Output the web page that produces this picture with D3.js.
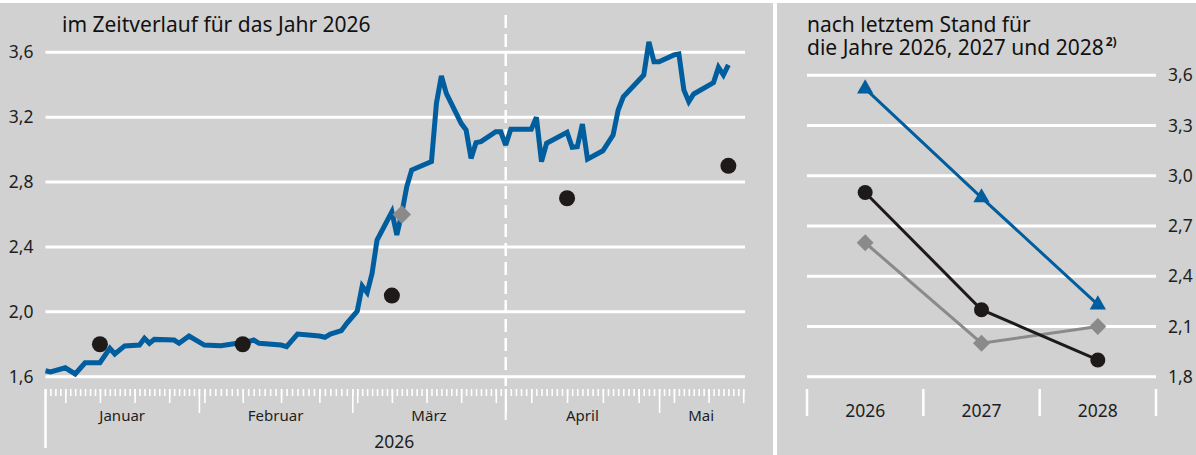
<!DOCTYPE html>
<html>
<head>
<meta charset="utf-8">
<script src="https://cdn.jsdelivr.net/npm/d3@7"></script>
<style>
  body { margin: 0; background: #fff; }
  svg { display: block; font-family: "Noto Sans", sans-serif; }
</style>
</head>
<body>
<svg id="chart" width="1196" height="455"></svg>
<script>
// ---- data ----
// daily values 2026 (blue line)
const blueSeries = [
  ["2026-01-01", 1.637], ["2026-01-02", 1.63], ["2026-01-05", 1.655], ["2026-01-07", 1.617],
  ["2026-01-09", 1.686], ["2026-01-12", 1.686], ["2026-01-14", 1.775], ["2026-01-15", 1.74],
  ["2026-01-17", 1.79], ["2026-01-20", 1.795], ["2026-01-21", 1.837], ["2026-01-22", 1.806],
  ["2026-01-23", 1.83], ["2026-01-27", 1.826], ["2026-01-28", 1.806], ["2026-01-30", 1.851],
  ["2026-02-02", 1.795], ["2026-02-05", 1.791], ["2026-02-08", 1.806], ["2026-02-09", 1.806],
  ["2026-02-11", 1.826], ["2026-02-12", 1.806], ["2026-02-16", 1.795], ["2026-02-17", 1.785],
  ["2026-02-19", 1.863], ["2026-02-21", 1.857], ["2026-02-23", 1.851], ["2026-02-24", 1.843],
  ["2026-02-25", 1.863], ["2026-02-27", 1.884], ["2026-02-28", 1.929],
  ["2026-03-02", 2.005], ["2026-03-03", 2.159], ["2026-03-04", 2.118], ["2026-03-05", 2.237],
  ["2026-03-06", 2.443], ["2026-03-09", 2.617], ["2026-03-10", 2.474], ["2026-03-11", 2.607],
  ["2026-03-12", 2.771], ["2026-03-13", 2.874], ["2026-03-17", 2.926], ["2026-03-18", 3.286],
  ["2026-03-19", 3.454], ["2026-03-20", 3.347], ["2026-03-23", 3.162], ["2026-03-24", 3.121],
  ["2026-03-25", 2.946], ["2026-03-26", 3.043], ["2026-03-27", 3.049], ["2026-03-30", 3.11],
  ["2026-03-31", 3.11],
  ["2026-04-01", 3.028], ["2026-04-02", 3.125], ["2026-04-06", 3.125], ["2026-04-07", 3.2],
  ["2026-04-08", 2.926], ["2026-04-09", 3.039], ["2026-04-13", 3.107], ["2026-04-14", 3.014],
  ["2026-04-15", 3.018], ["2026-04-16", 3.158], ["2026-04-17", 2.941], ["2026-04-20", 2.993],
  ["2026-04-22", 3.09], ["2026-04-23", 3.244], ["2026-04-24", 3.326], ["2026-04-28", 3.46],
  ["2026-04-29", 3.665], ["2026-04-30", 3.541],
  ["2026-05-01", 3.541], ["2026-05-04", 3.584], ["2026-05-05", 3.59], ["2026-05-06", 3.368],
  ["2026-05-07", 3.296], ["2026-05-08", 3.343], ["2026-05-12", 3.413], ["2026-05-13", 3.507],
  ["2026-05-14", 3.46], ["2026-05-15", 3.522]
];
// monthly estimates (black dots) and the single grey diamond
const blackPoints = [["2026-01-12", 1.8], ["2026-02-09", 1.8], ["2026-03-09", 2.1], ["2026-04-13", 2.7], ["2026-05-15", 2.9]];
const greyPoints = [["2026-03-11", 2.6]];

// right panel
const years = ["2026", "2027", "2028"];
const blueYears = [3.52, 2.87, 2.23];
const blackYears = [2.9, 2.2, 1.9];
const greyYears = [2.6, 2.0, 2.1];

const leftTicks = [1.6, 2.0, 2.4, 2.8, 3.2, 3.6];
const rightTicks = [1.8, 2.1, 2.4, 2.7, 3.0, 3.3, 3.6];
const monthNames = ["Januar", "Februar", "März", "April", "Mai"];
const axisStart = "2026-01-01", axisEnd = "2026-05-18";

// ---- setup ----
const BG = "#d1d1d1", BLUE = "#005d9e", BLACK = "#1e1a19", GREY = "#8a8a8a", TXT = "#1e1e1e";
const parse = d3.timeParse("%Y-%m-%d");
const de = d3.formatLocale({decimal: ",", thousands: ".", grouping: [3], currency: ["", " €"]});
const fmt = de.format(".1f");

const svg = d3.select("#chart");
svg.append("rect").attr("width", 1196).attr("height", 455).attr("fill", BG);
svg.append("rect").attr("width", 1196).attr("height", 3).attr("fill", "#fff");
svg.append("rect").attr("x", 773).attr("width", 4).attr("height", 455).attr("fill", "#fff");

// ================= left panel =================
const L = {left: 45.5, right: 745, top: 52.3, bottom: 376.7};
const monthW = 153.4;
const monthStarts = d3.timeMonth.range(parse(axisStart), parse(axisEnd));
const endDate = parse(axisEnd);
const xDomain = monthStarts.concat([endDate]);
const xRange = monthStarts.map((d, i) => L.left + i * monthW)
  .concat([L.left + (monthStarts.length - 1) * monthW + (d3.timeDay.count(monthStarts[monthStarts.length - 1], endDate) / 31) * monthW]);
const x = d3.scaleTime().domain(xDomain).range(xRange);
const yL = d3.scaleLinear().domain([1.6, 3.6]).range([L.bottom, L.top]);

const left = svg.append("g");

left.selectAll(".gridL").data(leftTicks).enter().append("line")
  .attr("x1", L.left).attr("x2", L.right)
  .attr("y1", d => yL(d)).attr("y2", d => yL(d))
  .attr("stroke", "#fff").attr("stroke-width", 3);

const yAxisL = left.append("g")
  .attr("transform", `translate(${L.left},0)`)
  .call(d3.axisLeft(yL).tickValues(leftTicks).tickFormat(fmt).tickSize(0).tickPadding(12));
yAxisL.select(".domain").remove();
yAxisL.selectAll("text").attr("fill", TXT).style("font-size", "17.5px").style("font-family", "Noto Sans");

// dashed separator at 1 April
const aprX = x(parse("2026-04-01"));
left.append("line").attr("x1", aprX).attr("x2", aprX).attr("y1", 15).attr("y2", 386)
  .attr("stroke", "#fff").attr("stroke-width", 2.5).attr("stroke-dasharray", "13,6");
left.append("line").attr("x1", aprX).attr("x2", aprX).attr("y1", 389).attr("y2", 420)
  .attr("stroke", "#fff").attr("stroke-width", 2);

// time axis: days, Mondays, month starts
const axisY = 389;
const days = d3.timeDay.range(parse(axisStart), d3.timeDay.offset(endDate, 1));
const mondays = d3.timeMonday.range(parse(axisStart), d3.timeDay.offset(endDate, 1));
function tickRow(values, size) {
  const g = left.append("g").attr("transform", `translate(0,${axisY})`)
    .call(d3.axisBottom(x).tickValues(values).tickSize(size).tickFormat(""));
  g.select(".domain").remove();
  g.selectAll("line").attr("stroke", "#fff").attr("stroke-width", 1.6);
}
tickRow(days, 7);
tickRow(mondays, 14);
tickRow(monthStarts.slice(1), 24);
left.append("line").attr("x1", L.left).attr("x2", L.left).attr("y1", axisY).attr("y2", 448)
  .attr("stroke", "#fff").attr("stroke-width", 2.5);

// month labels centered in their month
left.selectAll(".month").data(monthStarts).enter().append("text")
  .attr("x", (d, i) => (x(d) + x(i + 1 < monthStarts.length ? monthStarts[i + 1] : endDate)) / 2)
  .attr("y", 421).attr("text-anchor", "middle").attr("fill", TXT).style("font-size", "15px")
  .text((d, i) => monthNames[i]);
left.append("text").attr("x", (L.left + x(endDate)) / 2).attr("y", 448)
  .attr("text-anchor", "middle").attr("fill", TXT).style("font-size", "17.5px").text("2026");

// title
left.append("text").attr("x", 62).attr("y", 32).attr("fill", "#111")
  .style("font-size", "21px").text("im Zeitverlauf für das Jahr 2026");

// blue line
const lineL = d3.line().x(d => x(parse(d[0]))).y(d => yL(d[1]));
left.append("path").datum(blueSeries).attr("d", lineL)
  .attr("fill", "none").attr("stroke", BLUE).attr("stroke-width", 5).attr("stroke-linejoin", "miter").attr("stroke-miterlimit", 3);

left.selectAll(".bdot").data(blackPoints).enter().append("circle")
  .attr("cx", d => x(parse(d[0]))).attr("cy", d => yL(d[1])).attr("r", 8).attr("fill", BLACK);
left.selectAll(".gdot").data(greyPoints).enter().append("path")
  .attr("d", d3.symbol(d3.symbolSquare, 169))
  .attr("transform", d => `translate(${x(parse(d[0]))},${yL(d[1])}) rotate(45)`).attr("fill", GREY);

// ================= right panel =================
const R = {left: 807, right: 1156, top: 75.3, bottom: 376.7};
const xR = d3.scaleBand().domain(years).range([R.left, R.right]);
const yR = d3.scaleLinear().domain([1.8, 3.6]).range([R.bottom, R.top]);
const right = svg.append("g");

right.selectAll(".gridR").data(rightTicks).enter().append("line")
  .attr("x1", R.left).attr("x2", R.right)
  .attr("y1", d => yR(d)).attr("y2", d => yR(d))
  .attr("stroke", "#fff").attr("stroke-width", 3);

const yAxisR = right.append("g").attr("transform", `translate(${R.right},0)`)
  .call(d3.axisRight(yR).tickValues(rightTicks).tickFormat(fmt).tickSize(0).tickPadding(12));
yAxisR.select(".domain").remove();
yAxisR.selectAll("text").attr("fill", TXT).style("font-size", "17.5px").style("font-family", "Noto Sans");

// category separators and labels
const bounds = years.map(d => xR(d)).concat([xR(years[years.length - 1]) + xR.bandwidth()]);
right.selectAll(".sep").data(bounds).enter().append("line")
  .attr("x1", d => d).attr("x2", d => d).attr("y1", 389).attr("y2", 416)
  .attr("stroke", "#fff").attr("stroke-width", 2.5);
right.selectAll(".cat").data(years).enter().append("text")
  .attr("x", d => xR(d) + xR.bandwidth() / 2).attr("y", 417)
  .attr("text-anchor", "middle").attr("fill", TXT).style("font-size", "17.5px").text(d => d);

// title
right.append("text").attr("x", R.left).attr("y", 32).attr("fill", "#111")
  .style("font-size", "21px").text("nach letztem Stand für");
const t2 = right.append("text").attr("x", R.left).attr("y", 55).attr("fill", "#111").style("font-size", "21px");
t2.append("tspan").text("die Jahre 2026, 2027 und 2028");
t2.append("tspan").attr("dx", 2).attr("dy", -9).style("font-size", "12px").style("font-weight", 700).text("2)");

const cx = d => xR(d) + xR.bandwidth() / 2;
function series(vals, color, symbolFn) {
  const pts = years.map((d, i) => [cx(d), yR(vals[i])]);
  right.append("path").datum(pts).attr("d", d3.line())
    .attr("fill", "none").attr("stroke", color).attr("stroke-width", 3);
  symbolFn(right.selectAll(null).data(pts).enter(), color);
}
series(greyYears, GREY, (sel, c) => sel.append("path")
  .attr("d", d3.symbol(d3.symbolSquare, 144))
  .attr("transform", d => `translate(${d[0]},${d[1]}) rotate(45)`).attr("fill", c));
series(blackYears, BLACK, (sel, c) => sel.append("circle")
  .attr("cx", d => d[0]).attr("cy", d => d[1]).attr("r", 7.5).attr("fill", c));
series(blueYears, BLUE, (sel, c) => sel.append("path")
  .attr("d", d3.symbol(d3.symbolTriangle, 115))
  .attr("transform", d => `translate(${d[0]},${d[1]})`).attr("fill", c));
</script>
</body>
</html>
